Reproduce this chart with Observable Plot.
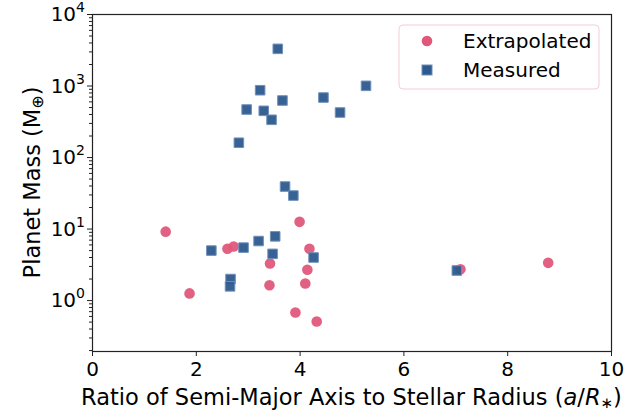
<!DOCTYPE html>
<html>
<head>
<meta charset="utf-8">
<script src="https://cdn.jsdelivr.net/npm/d3@7"></script>
<script src="https://cdn.jsdelivr.net/npm/@observablehq/plot@0.6"></script>
<style>
  html, body { margin: 0; padding: 0; background: #fff; }
  #chart svg { display: block; }
</style>
</head>
<body>
<div id="chart"></div>
<script>
// Extrapolated planets: a/R* and mass (Earth masses)
const extrapX = [1.41, 1.87, 2.60, 2.72, 3.99, 4.18, 3.42, 4.14, 3.41, 4.10, 3.91, 4.32, 7.09, 8.78];
const extrapY = [9.2, 1.26, 5.3, 5.7, 12.6, 5.3, 3.3, 2.7, 1.64, 1.73, 0.68, 0.51, 2.74, 3.37];
// Measured planets
const measX = [3.57, 3.23, 2.97, 3.30, 3.66, 3.45, 4.45, 4.77, 5.27, 2.82, 3.71, 3.87, 2.29, 2.91, 3.20, 3.52, 3.47, 4.26, 2.66, 2.65, 7.02];
const measY = [3310, 873, 469, 450, 627, 337, 690, 426, 1006, 161, 39.3, 29.4, 5.0, 5.5, 6.8, 7.9, 4.5, 4.0, 2.0, 1.58, 2.63];

const xTicks = [0, 2, 4, 6, 8, 10];
const yTicks = [1, 10, 100, 1000, 10000];
const yTickExp = ["0", "1", "2", "3", "4"];
const seriesNames = ["Extrapolated", "Measured"];

const extrap = extrapX.map((x, i) => ({x, y: extrapY[i]}));
const measured = measX.map((x, i) => ({x, y: measY[i]}));
const yMinor = [];
for (const d of [0.1, 1, 10, 100, 1000]) for (let k = 2; k <= 9; k++) yMinor.push(d * k);

const FONT = "DejaVu Sans, sans-serif";
const pink = "#e0577a";
const blue = "#2d5a8e";

const plot = Plot.plot({
  width: 639,
  height: 411,
  marginLeft: 92,
  marginRight: 28,
  marginTop: 14,
  marginBottom: 60,
  style: {fontFamily: FONT, color: "#000", background: "#fff"},
  x: {domain: [0, 10]},
  y: {type: "log", domain: [0.194, 10000]},
  marks: [
    Plot.axisX({ticks: xTicks, tickSize: 5, tickPadding: 5, fontSize: 20, label: null, stroke: "#222"}),
    Plot.axisY({ticks: yTicks, tickFormat: () => "", tickSize: 5, label: null, stroke: "#222"}),
    Plot.axisY({ticks: yMinor.filter(v => v >= 0.194 && v <= 10000), tickFormat: () => "", tickSize: 3, label: null, stroke: "#222"}),
    Plot.frame({stroke: "#222", strokeWidth: 1.2}),
    Plot.dot(extrap, {x: "x", y: "y", r: 5.3, fill: pink, fillOpacity: 0.95, stroke: "none"}),
    Plot.dot(measured, {x: "x", y: "y", symbol: "square", r: 5.4, fill: blue, fillOpacity: 0.95, stroke: "#6f90bb", strokeWidth: 1})
  ]
});

document.getElementById("chart").appendChild(plot);

const svg = d3.select(plot);
const yScale = plot.scale("y");

// Y tick labels: 10^k with superscript
yTicks.forEach((v, i) => {
  const t = svg.append("text")
    .attr("x", 85).attr("y", yScale.apply(v) + 7)
    .attr("text-anchor", "end")
    .attr("font-family", FONT).attr("font-size", 20).attr("fill", "#000");
  t.append("tspan").text("10");
  t.append("tspan").attr("font-size", 14).attr("dy", -9).text(yTickExp[i]);
});

// Axis labels
const xl = svg.append("text")
  .attr("x", 351.5).attr("y", 405)
  .attr("text-anchor", "middle")
  .attr("font-family", FONT).attr("font-size", 22.5).attr("fill", "#000");
xl.append("tspan").text("Ratio of Semi-Major Axis to Stellar Radius (");
xl.append("tspan").attr("font-style", "italic").text("a");
xl.append("tspan").text("/");
xl.append("tspan").attr("font-style", "italic").text("R");
xl.append("tspan").attr("font-size", 15).attr("dy", 3).text("∗");
xl.append("tspan").attr("dy", -3).text(")");

const yl = svg.append("text")
  .attr("transform", "translate(40,182.5) rotate(-90)")
  .attr("text-anchor", "middle")
  .attr("font-family", FONT).attr("font-size", 22.5).attr("fill", "#000");
yl.append("tspan").text("Planet Mass (M");
yl.append("tspan").attr("font-size", 16).attr("dy", 3).text("⊕");
yl.append("tspan").attr("dy", -3).text(")");

// Legend
const lg = svg.append("g");
lg.append("rect").attr("x", 399).attr("y", 25).attr("width", 200).attr("height", 64)
  .attr("rx", 4).attr("fill", "#fff").attr("fill-opacity", 0.85)
  .attr("stroke", "#f5cdd3").attr("stroke-width", 1);
lg.append("circle").attr("cx", 427).attr("cy", 41).attr("r", 5.3).attr("fill", pink);
lg.append("rect").attr("x", 422).attr("y", 65).attr("width", 10).attr("height", 10)
  .attr("fill", blue).attr("stroke", "#6f90bb").attr("stroke-width", 1);
lg.append("text").attr("x", 463).attr("y", 48).attr("text-anchor", "start").attr("font-family", FONT).attr("font-size", 20).attr("fill", "#000").text(seriesNames[0]);
lg.append("text").attr("x", 463).attr("y", 77).attr("text-anchor", "start").attr("font-family", FONT).attr("font-size", 20).attr("fill", "#000").text(seriesNames[1]);
</script>
</body>
</html>
